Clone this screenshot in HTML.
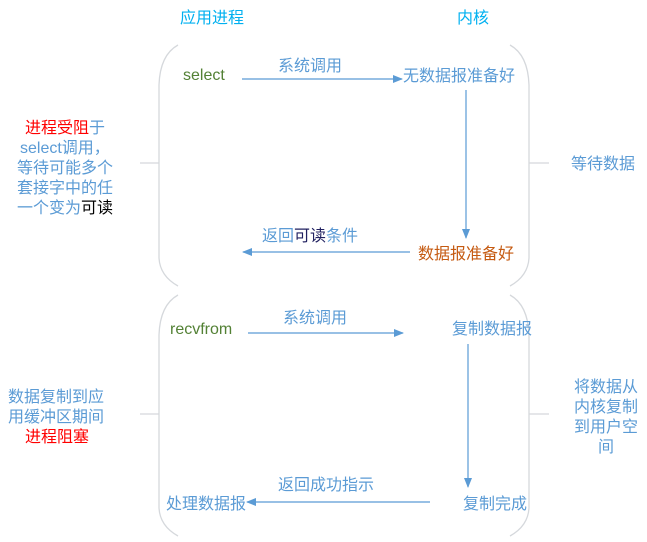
<!DOCTYPE html>
<html><head><meta charset="utf-8"><style>
html,body{margin:0;padding:0;background:#fff;}
svg{display:block;}
text{font-family:"Liberation Sans","Noto Sans CJK SC",sans-serif;font-size:16px;fill:#5b9bd5;}
</style></head><body>
<svg width="647" height="542" viewBox="0 0 647 542" xmlns="http://www.w3.org/2000/svg">
<defs><marker id="a" markerWidth="10" markerHeight="8" refX="9" refY="4" orient="auto" markerUnits="userSpaceOnUse"><path d="M0,0 L10,4 L0,8 Z" fill="#5b9bd5"/></marker></defs>
<g fill="none" stroke="#d5d8dc" stroke-width="1.3">
<path d="M178,45 Q160,55 159,85 L159,258 Q160,276 178,286"/>
<path d="M510,45 Q528,55 529,85 L529,258 Q528,276 510,286"/>
<path d="M178,295 Q160,305 159,335 L159,508 Q160,526 178,536"/>
<path d="M510,295 Q528,305 529,335 L529,508 Q528,526 510,536"/>
<path d="M140,163 H159 M529,163 H549 M140,414 H159 M529,414 H549"/>
</g>
<text x="180" y="23" style="fill:#00b0f0">应用进程</text>
<text x="457" y="23" style="fill:#00b0f0">内核</text>
<g stroke="#5b9bd5" stroke-width="1.2" fill="none">
<line x1="242" y1="79" x2="402" y2="79" marker-end="url(#a)"/>
<line x1="466" y1="90" x2="466" y2="238" marker-end="url(#a)"/>
<line x1="410" y1="252" x2="243" y2="252" marker-end="url(#a)"/>
<line x1="248" y1="333" x2="403" y2="333" marker-end="url(#a)"/>
<line x1="468" y1="344" x2="468" y2="487" marker-end="url(#a)"/>
<line x1="430" y1="502" x2="247" y2="502" marker-end="url(#a)"/>
</g>
<text x="183" y="80" style="fill:#538135">select</text>
<text x="278" y="71">系统调用</text>
<text x="403" y="81">无数据报准备好</text>
<text x="571" y="169">等待数据</text>
<text x="262" y="241">返回<tspan style="fill:#1f1f5f">可读</tspan>条件</text>
<text x="418" y="259" style="fill:#c55a11">数据报准备好</text>
<text x="25" y="133"><tspan style="fill:#ff0000">进程受阻</tspan>于</text>
<text x="20" y="153">select调用，</text>
<text x="17" y="173">等待可能多个</text>
<text x="17" y="193">套接字中的任</text>
<text x="17" y="213">一个变为<tspan style="fill:#000">可读</tspan></text>
<text x="170" y="334" style="fill:#538135">recvfrom</text>
<text x="283" y="323">系统调用</text>
<text x="452" y="334">复制数据报</text>
<text x="8" y="402">数据复制到应</text>
<text x="8" y="422">用缓冲区期间</text>
<text x="25" y="442" style="fill:#ff0000">进程阻塞</text>
<text x="574" y="392">将数据从</text>
<text x="574" y="412">内核复制</text>
<text x="574" y="432">到用户空</text>
<text x="598" y="452">间</text>
<text x="278" y="490">返回成功指示</text>
<text x="166" y="509">处理数据报</text>
<text x="463" y="509">复制完成</text>
</svg>
</body></html>
